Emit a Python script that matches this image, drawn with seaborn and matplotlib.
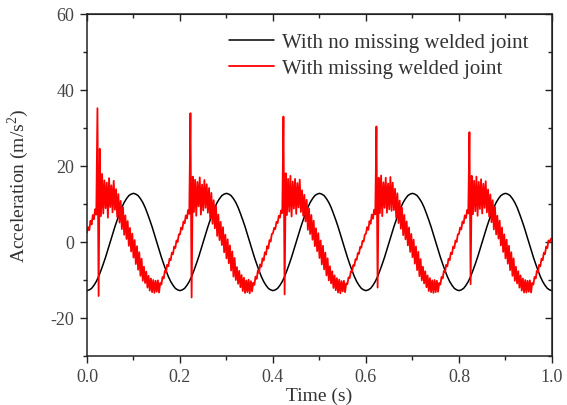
import numpy as np
import pandas as pd
import matplotlib
matplotlib.use("Agg")
import matplotlib.pyplot as plt
from matplotlib.ticker import MultipleLocator
import seaborn as sns

# --- values ---
black_step = 0.005   # s between samples of the intact-track curve
red_step = 0.0025    # s between samples of the damaged-track curve

black_values = [
    -12.8, -12.6, -12.2, -11.4, -10.4, -9.1, -7.5, -5.8, -4.0, -2.0, 0.0, 2.0, 4.0, 5.8, 7.5, 9.1, 10.4, 11.4, 12.2, 12.6,
    12.8, 12.6, 12.2, 11.4, 10.4, 9.1, 7.5, 5.8, 4.0, 2.0, 0.0, -2.0, -4.0, -5.8, -7.5, -9.1, -10.4, -11.4, -12.2, -12.6,
    -12.8, -12.6, -12.2, -11.4, -10.4, -9.1, -7.5, -5.8, -4.0, -2.0, 0.0, 2.0, 4.0, 5.8, 7.5, 9.1, 10.4, 11.4, 12.2, 12.6,
    12.8, 12.6, 12.2, 11.4, 10.4, 9.1, 7.5, 5.8, 4.0, 2.0, 0.0, -2.0, -4.0, -5.8, -7.5, -9.1, -10.4, -11.4, -12.2, -12.6,
    -12.8, -12.6, -12.2, -11.4, -10.4, -9.1, -7.5, -5.8, -4.0, -2.0, 0.0, 2.0, 4.0, 5.8, 7.5, 9.1, 10.4, 11.4, 12.2, 12.6,
    12.8, 12.6, 12.2, 11.4, 10.4, 9.1, 7.5, 5.8, 4.0, 2.0, 0.0, -2.0, -4.0, -5.8, -7.5, -9.1, -10.4, -11.4, -12.2, -12.6,
    -12.8, -12.6, -12.2, -11.4, -10.4, -9.1, -7.5, -5.8, -4.0, -2.0, 0.0, 2.0, 4.0, 5.8, 7.5, 9.1, 10.4, 11.4, 12.2, 12.6,
    12.8, 12.6, 12.2, 11.4, 10.4, 9.1, 7.5, 5.8, 4.0, 2.0, 0.0, -2.0, -4.0, -5.8, -7.5, -9.1, -10.4, -11.4, -12.2, -12.6,
    -12.8, -12.6, -12.2, -11.4, -10.4, -9.1, -7.5, -5.8, -4.0, -2.0, 0.0, 2.0, 4.0, 5.8, 7.5, 9.1, 10.4, 11.4, 12.2, 12.6,
    12.8, 12.6, 12.2, 11.4, 10.4, 9.1, 7.5, 5.8, 4.0, 2.0, 0.0, -2.0, -4.0, -5.8, -7.5, -9.1, -10.4, -11.4, -12.2, -12.6,
    -12.8,
]

red_values = [
    # 0.0 - 0.2 s
    2.5, 3.9, 3.1, 5.6, 4.6, 7.1, 6.0, 8.6, 7.2, 35.2, -14.2,
    24.5, 6.8, 17.9, 7.5, 16.2, 8.9, 15.6, 6.4, 16.8, 9.2, 14.9, 7.8, 16.1, 8.5,
    13.9, 6.6, 12.6, 5.1, 10.8, 3.4, 9.1, 1.9,
    7.0, 0.8, 5.5, -1.0, 3.7, -2.5, 2.2, -4.1, 0.5, -5.8, -1.1, -7.3, -2.7, -8.9, -4.4, -10.2,
    -6.5, -10.8, -7.8, -12.0, -8.9, -12.8, -9.6, -13.2, -10.0, -13.4, -10.2, -13.1, -10.1, -13.3,
    -10.8, -11.2, -9.2, -9.6, -7.6, -8.0, -6.0, -6.4, -4.4, -4.8, -2.8, -3.2, -1.2, -1.6, 0.4, 0.0, 2.0,
    # 0.2 - 0.4 s
    2.0, 3.8, 3.3, 5.4, 4.9, 7.0, 6.2, 8.4, 7.4, 33.9, -14.6,
    17.2, 7.9, 16.4, 6.9, 15.8, 9.4, 17.0, 7.2, 15.1, 8.3, 16.3, 9.0, 15.2, 7.7,
    14.2, 6.2, 12.9, 4.8, 11.0, 3.6, 9.4, 1.6,
    7.2, 0.5, 5.3, -0.8, 3.9, -2.7, 1.9, -4.3, 0.7, -5.6, -0.9, -7.5, -2.5, -9.1, -4.2, -10.0,
    -6.6, -11.0, -7.6, -11.9, -8.7, -12.9, -9.4, -13.4, -10.1, -13.2, -9.9, -13.5, -10.3, -13.0,
    -10.7, -11.3, -9.1, -9.7, -7.5, -8.1, -5.9, -6.5, -4.3, -4.9, -2.7, -3.3, -1.1, -1.7, 0.5, 0.1, 2.1,
    # 0.4 - 0.6 s
    2.3, 3.7, 3.4, 5.3, 5.0, 6.9, 6.4, 8.3, 7.6, 33.0, -13.8,
    18.1, 7.1, 16.6, 8.0, 17.4, 6.7, 15.9, 8.8, 16.6, 7.4, 15.5, 9.1, 16.4, 7.9,
    13.6, 6.9, 12.4, 5.4, 11.1, 3.2, 8.8, 2.1,
    7.1, 0.6, 5.6, -1.1, 3.6, -2.4, 2.3, -4.2, 0.4, -5.9, -1.0, -7.2, -2.8, -8.8, -4.3, -10.1,
    -6.4, -10.9, -7.7, -12.1, -8.8, -12.7, -9.5, -13.3, -9.9, -13.5, -10.3, -13.0, -10.2, -13.2,
    -10.9, -11.1, -9.3, -9.5, -7.7, -7.9, -6.1, -6.3, -4.5, -4.7, -2.9, -3.1, -1.3, -1.5, 0.3, 0.1, 1.9,
    # 0.6 - 0.8 s
    2.2, 3.9, 3.2, 5.5, 4.8, 7.2, 6.1, 8.5, 7.3, 30.4, -12.0,
    16.9, 7.6, 17.5, 6.8, 15.7, 9.0, 16.9, 7.7, 15.4, 8.6, 17.1, 8.2, 15.6, 8.4,
    14.0, 6.4, 12.8, 5.0, 10.9, 3.5, 9.0, 1.8,
    7.1, 0.7, 5.4, -0.9, 3.8, -2.6, 2.1, -4.0, 0.6, -5.7, -1.2, -7.4, -2.6, -9.0, -4.5, -10.1,
    -6.5, -10.9, -7.7, -11.9, -8.8, -12.9, -9.5, -13.2, -10.1, -13.4, -10.0, -13.2, -10.2, -13.1,
    -10.8, -11.2, -9.2, -9.6, -7.6, -8.0, -6.0, -6.4, -4.4, -4.8, -2.8, -3.2, -1.2, -1.6, 0.4, 0.0, 2.0,
    # 0.8 - 1.0 s
    2.1, 3.8, 3.3, 5.4, 4.9, 7.0, 6.3, 8.4, 7.5, 28.9, -11.1,
    17.4, 7.3, 16.1, 8.1, 17.2, 6.9, 15.8, 8.7, 16.5, 7.5, 15.3, 9.0, 16.0, 7.8,
    13.8, 6.7, 12.5, 5.2, 11.0, 3.3, 9.2, 2.0,
    6.9, 0.9, 5.6, -0.9, 3.8, -2.6, 2.0, -4.3, 0.6, -5.7, -1.0, -7.4, -2.7, -8.9, -4.3, -10.2,
    -6.5, -10.9, -7.7, -12.0, -8.8, -12.8, -9.6, -13.3, -10.0, -13.3, -10.2, -13.1, -10.1, -13.3,
    -10.8, -11.2, -9.2, -9.6, -7.6, -8.0, -6.0, -6.4, -4.4, -4.8, -2.8, -3.2, -1.2, -1.6, 0.4, 0.0, 0.8,
    1.0,
]

label_black = "With no missing welded joint"
label_red = "With missing welded joint"

t_black = np.arange(len(black_values)) * black_step
t_red = np.arange(len(red_values)) * red_step

sns.set_style("ticks")
plt.rcParams["font.family"] = ["Liberation Serif", "DejaVu Serif"]
plt.rcParams["axes.unicode_minus"] = False
plt.rcParams["mathtext.fontset"] = "custom"
plt.rcParams["mathtext.rm"] = "Liberation Serif"

fig = plt.figure(figsize=(5.67, 4.06), dpi=100)
ax = fig.add_axes([0.1534, 0.1207, 0.8201, 0.8424])

sns.lineplot(x=t_black, y=black_values, color="black", lw=1.1, estimator=None,
             sort=False, label=label_black, ax=ax)
sns.lineplot(x=t_red, y=red_values, color="#ff0000", lw=1.3, estimator=None,
             sort=False, label=label_red, ax=ax)

ax.set_xlim(0, 1.0)
ax.set_ylim(-30, 60)
ax.xaxis.set_major_locator(MultipleLocator(0.2))
ax.xaxis.set_minor_locator(MultipleLocator(0.1))
ax.yaxis.set_major_locator(MultipleLocator(20))
ax.yaxis.set_minor_locator(MultipleLocator(10))
ax.set_xticklabels([f"{v:.1f}" for v in ax.get_xticks()])

for s in ax.spines.values():
    s.set_color("#222222")
    s.set_linewidth(1.1)

ax.tick_params(which="both", direction="out", colors="#222222", labelsize=13,
               labelcolor="#444444", bottom=True, left=True)
ax.tick_params(which="major", length=5, width=1.0, pad=4)
ax.tick_params(which="minor", length=3, width=1.0)

# mirrored ticks on top and right, pointing inward
top = ax.secondary_xaxis("top")
top.xaxis.set_major_locator(MultipleLocator(0.2))
top.xaxis.set_minor_locator(MultipleLocator(0.1))
top.tick_params(which="both", direction="in", labeltop=False, colors="#222222")
top.tick_params(which="major", length=5, width=1.0)
top.tick_params(which="minor", length=3, width=1.0)
right = ax.secondary_yaxis("right")
right.yaxis.set_major_locator(MultipleLocator(20))
right.yaxis.set_minor_locator(MultipleLocator(10))
right.tick_params(which="both", direction="in", labelright=False, colors="#222222")
right.tick_params(which="major", length=5, width=1.0)
right.tick_params(which="minor", length=3, width=1.0)

ax.set_xlabel("Time (s)", fontsize=14, color="#333333", labelpad=1)
ax.set_ylabel("Acceleration (m/s$^{2}$)", fontsize=14, color="#333333", labelpad=14)

ax.legend(loc="upper left", bbox_to_anchor=(0.273, 0.988), frameon=False,
          fontsize=15, handlelength=2.2, handletextpad=0.35, labelspacing=0.3,
          borderaxespad=0.3, labelcolor="#333333")

fig.savefig("out.png", dpi=100)
